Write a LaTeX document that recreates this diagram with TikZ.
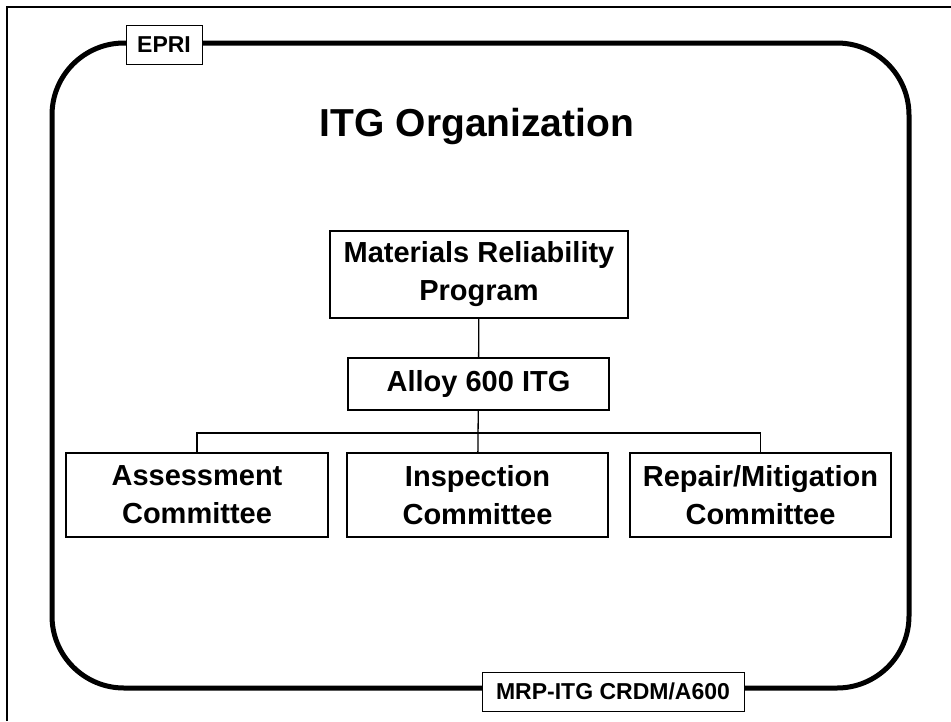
\documentclass[tikz,border=0pt]{standalone}
\usepackage{fontspec}
\setmainfont{Liberation Sans}
\usepackage{tikz}

\tikzset{
  unit/.style={draw, line width=1.3pt, fill=white, align=center, inner sep=0pt,
    font=\bfseries\fontsize{29}{38}\selectfont},
  tag/.style={draw, line width=1pt, fill=white, inner sep=0pt,
    font=\bfseries\fontsize{23}{26}\selectfont},
  link/.style={line width=1.3pt}
}

\begin{document}
\begin{tikzpicture}[x=1pt, y=-1pt]
\useasboundingbox (0,0) rectangle (951,721);
\draw[line width=2pt] (7,721) -- (7,7) -- (951,7);
\draw[line width=5pt, rounded corners=72pt] (52,43) rectangle (909,688);
\node[tag, minimum width=76pt, minimum height=39pt] (epri) at (164,44.5) {EPRI};
\node[tag, minimum width=262pt, minimum height=39pt] (code) at (613,691.5) {MRP-ITG CRDM/A600};
\node[font=\bfseries\fontsize{39}{42}\selectfont] (title) at (477,126) {ITG Organization};
\node[unit, minimum width=298pt, minimum height=87pt] (mrp) at (479,274.5) {Materials Reliability\\Program};
\node[unit, minimum width=261pt, minimum height=52pt] (alloy) at (478.5,384) {Alloy 600 ITG};
\node[unit, minimum width=262pt, minimum height=84pt] (assess) at (197,495) {Assessment\\Committee};
\node[unit, minimum width=261pt, minimum height=84pt] (insp) at (477.5,495) {Inspection\\Committee};
\node[unit, minimum width=261pt, minimum height=84pt] (repair) at (760.5,495) {Repair/Mitigation\\Committee};
\coordinate (bus) at (478,433);
\draw[link] (mrp) -- (alloy);
\draw[link] (alloy) -- (insp);
\draw[link] (assess.north) |- (bus) -| (repair.north);
\end{tikzpicture}
\end{document}
